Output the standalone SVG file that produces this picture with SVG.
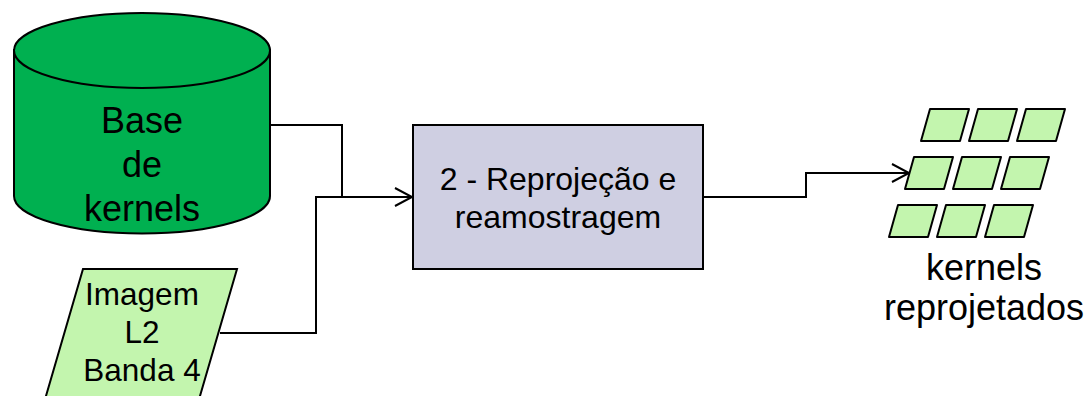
<svg xmlns="http://www.w3.org/2000/svg" width="1090" height="396" viewBox="0 0 1090 396">
  <style>
    .lbl { font-family: "Liberation Sans", Arial, sans-serif; fill: #000; text-anchor: middle; }
    .edge { fill: none; stroke: #000; stroke-width: 2; }
    .tile { fill: #C3F5AE; stroke: #000; stroke-width: 2; stroke-linejoin: round; }
  </style>
  <defs>
    <marker id="open-arrow" markerUnits="userSpaceOnUse" markerWidth="24" markerHeight="24" viewBox="-20 -12 24 24" refX="0" refY="0" orient="auto">
      <path d="M-17,-9 L0,0 L-17,9" fill="none" stroke="#000" stroke-width="2"/>
    </marker>
    <polygon id="tile" points="9,0 48,0 39,32 0,32"/>
  </defs>
  <rect width="1090" height="396" fill="#fff"/>

  <!-- connectors -->
  <g id="connectors">
    <polyline class="edge" points="270,125 342,125 342,197 412,197" marker-end="url(#open-arrow)"/>
    <polyline class="edge" points="220,333 316,333 316,197 342,197"/>
    <polyline class="edge" points="703,197 806,197 806,173 909,173" marker-end="url(#open-arrow)"/>
  </g>

  <!-- database cylinder -->
  <g id="base-kernels">
    <path d="M14,50 L14,196 A128,37.5 0 0 0 270,196 L270,50 Z" fill="#00B050" stroke="#000" stroke-width="2"/>
    <ellipse cx="142" cy="50.5" rx="128" ry="37.5" fill="#00B050" stroke="#000" stroke-width="2"/>
    <text class="lbl" font-size="36" x="142" y="133">Base</text>
    <text class="lbl" font-size="36" x="142" y="177">de</text>
    <text class="lbl" font-size="36" x="142" y="221">kernels</text>
  </g>

  <!-- input image -->
  <g id="imagem-l2">
    <polygon points="83,269 237,269 193,420 39,420" fill="#C3F5AE" stroke="#000" stroke-width="2"/>
    <text class="lbl" font-size="31.5" x="142" y="305">Imagem</text>
    <text class="lbl" font-size="31.5" x="142" y="343">L2</text>
    <text class="lbl" font-size="31.5" x="142" y="381">Banda 4</text>
  </g>

  <!-- process -->
  <g id="reprojecao">
    <rect x="413" y="125" width="290" height="144" fill="#CFCFE2" stroke="#000" stroke-width="2"/>
    <text class="lbl" font-size="32" x="558" y="190">2 - Reprojeção e</text>
    <text class="lbl" font-size="32" x="558" y="228">reamostragem</text>
  </g>

  <!-- output tiles -->
  <g id="kernels-reprojetados">
    <g class="tile">
      <use href="#tile" x="921" y="109"/>
      <use href="#tile" x="969" y="109"/>
      <use href="#tile" x="1017" y="109"/>
      <use href="#tile" x="905" y="157"/>
      <use href="#tile" x="953" y="157"/>
      <use href="#tile" x="1001" y="157"/>
      <use href="#tile" x="889" y="205"/>
      <use href="#tile" x="937" y="205"/>
      <use href="#tile" x="985" y="205"/>
    </g>
    <text class="lbl" font-size="36" x="984" y="280">kernels</text>
    <text class="lbl" font-size="36" x="984" y="320">reprojetados</text>
  </g>
</svg>
